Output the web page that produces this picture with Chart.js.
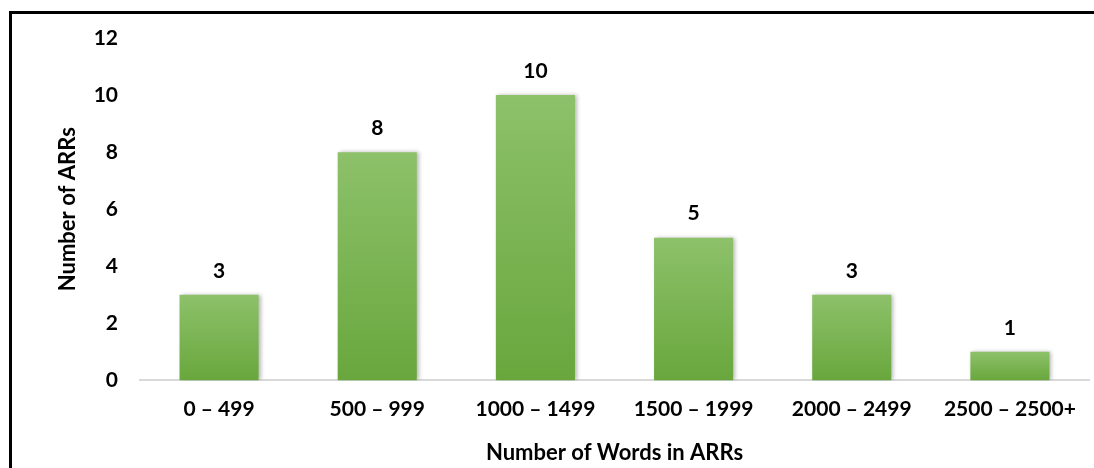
<!DOCTYPE html>
<html>
<head>
<meta charset="utf-8">
<script src="https://cdn.jsdelivr.net/npm/chart.js@4"></script>
<style>
  html, body { margin: 0; padding: 0; background: #fff; }
  #wrap { position: relative; width: 1094px; height: 468px; }
  #frame { position: absolute; left: 9px; top: 11px; right: -10px; bottom: -10px;
           border-top: 3px solid #000; border-left: 3px solid #000; pointer-events: none; }
</style>
</head>
<body>
<div id="wrap">
  <canvas id="wordsChart" width="1094" height="468"></canvas>
  <div id="frame"></div>
</div>
<script>
const categories = ['0 \u2013 499', '500 \u2013 999', '1000 \u2013 1499', '1500 \u2013 1999', '2000 \u2013 2499', '2500 \u2013 2500+'];
const arrCounts = [3, 8, 10, 5, 3, 1];
const yTicks = [0, 2, 4, 6, 8, 10, 12];

const fontFamily = 'Lato, "Open Sans", sans-serif';

// light green at the top of each bar, darker at its base
function barFill(c) {
  const chart = c.chart;
  const y = chart.scales.y;
  if (!y || !c.parsed) return '#7ab550';
  const top = y.getPixelForValue(c.parsed.y);
  const base = y.getPixelForValue(0);
  if (!isFinite(top) || !isFinite(base) || top === base) return '#7ab550';
  const g = chart.ctx.createLinearGradient(0, top, 0, base);
  g.addColorStop(0, '#8dc16a');
  g.addColorStop(1, '#69a73d');
  return g;
}

const barLook = {
  id: 'barLook',
  beforeDatasetsDraw(chart) {
    const ctx = chart.ctx;
    ctx.save();
    ctx.shadowColor = 'rgba(0,0,0,0.28)';
    ctx.shadowBlur = 4;
    ctx.shadowOffsetX = 2;
    ctx.shadowOffsetY = 0;
  },
  afterDatasetsDraw(chart) {
    const ctx = chart.ctx;
    ctx.restore();
    ctx.save();
    ctx.font = 'bold 21px ' + fontFamily;
    ctx.fillStyle = '#000';
    ctx.textAlign = 'center';
    ctx.textBaseline = 'middle';
    chart.getDatasetMeta(0).data.forEach((bar, i) => {
      ctx.fillText(arrCounts[i], bar.x, bar.y - 24);
    });
    ctx.restore();
  }
};

new Chart(document.getElementById('wordsChart').getContext('2d'), {
  type: 'bar',
  data: {
    labels: categories,
    datasets: [{
      data: arrCounts,
      backgroundColor: barFill,
      barPercentage: 0.5,
      categoryPercentage: 1.0
    }]
  },
  options: {
    responsive: false,
    animation: false,
    layout: { padding: { left: 46, right: 5, top: 38, bottom: 2 } },
    plugins: { legend: { display: false }, tooltip: { enabled: false } },
    scales: {
      x: {
        grid: { display: false, drawTicks: false },
        border: { color: '#d9d9d9', width: 2 },
        ticks: { color: '#000', padding: 16, font: { family: fontFamily, size: 21, weight: 'bold' } },
        title: { display: true, text: 'Number of Words in ARRs', color: '#000', padding: { top: 2, bottom: 0 },
                 font: { family: fontFamily, size: 22, weight: 'bold' } }
      },
      y: {
        min: 0, max: 12,
        afterBuildTicks(axis) { axis.ticks = yTicks.map(v => ({ value: v })); },
        afterFit(axis) { axis.width = 94; },
        grid: { display: false, drawTicks: false },
        border: { display: false },
        ticks: { color: '#000', padding: 22, font: { family: fontFamily, size: 21, weight: 'bold' } }
      }
    }
  },
  plugins: [barLook, {
    id: 'yTitle',
    afterDraw(chart) {
      const ctx = chart.ctx;
      ctx.save();
      ctx.translate(68, (chart.chartArea.top + chart.chartArea.bottom) / 2);
      ctx.rotate(-Math.PI / 2);
      ctx.font = 'bold 22px ' + fontFamily;
      ctx.fillStyle = '#000';
      ctx.textAlign = 'center';
      ctx.textBaseline = 'middle';
      ctx.fillText('Number of ARRs', 0, 0);
      ctx.restore();
    }
  }]
});
</script>
</body>
</html>
